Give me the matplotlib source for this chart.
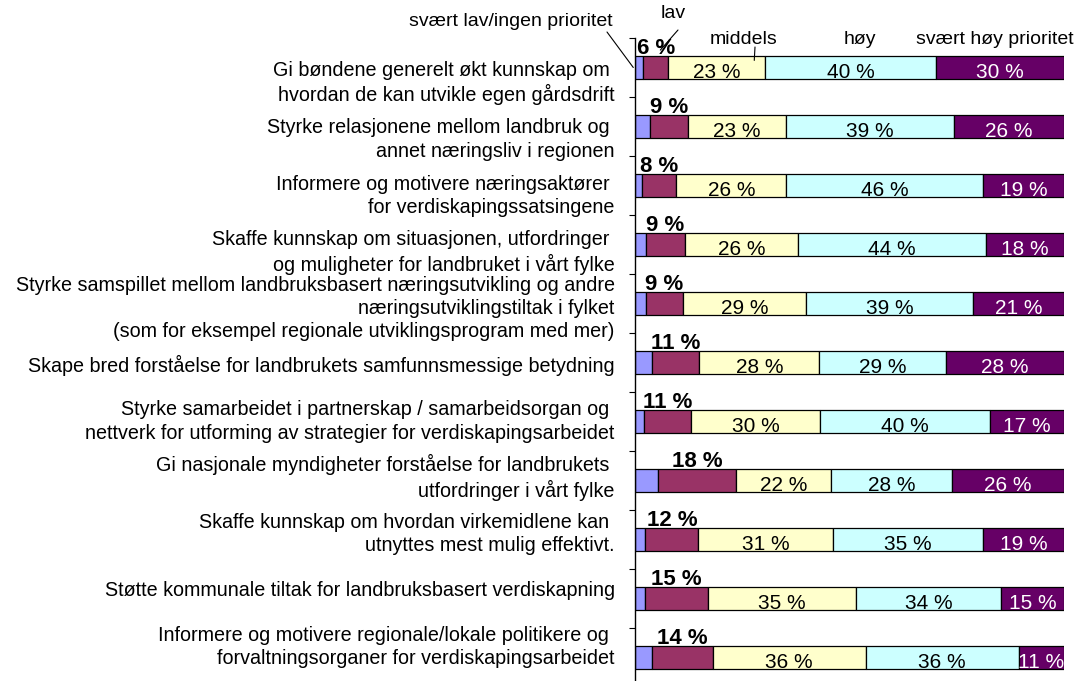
import numpy as np
import matplotlib.pyplot as plt

plt.rcParams['font.family'] = ['Liberation Sans', 'DejaVu Sans']

# tiltak (top to bottom)
categories = [
    "Gi bøndene generelt økt kunnskap om \nhvordan de kan utvikle egen gårdsdrift",
    "Styrke relasjonene mellom landbruk og \nannet næringsliv i regionen",
    "Informere og motivere næringsaktører \nfor verdiskapingssatsingene",
    "Skaffe kunnskap om situasjonen, utfordringer \nog muligheter for landbruket i vårt fylke",
    "Styrke samspillet mellom landbruksbasert næringsutvikling og andre\nnæringsutviklingstiltak i fylket\n(som for eksempel regionale utviklingsprogram med mer)",
    "Skape bred forståelse for landbrukets samfunnsmessige betydning",
    "Styrke samarbeidet i partnerskap / samarbeidsorgan og \nnettverk for utforming av strategier for verdiskapingsarbeidet",
    "Gi nasjonale myndigheter forståelse for landbrukets \nutfordringer i vårt fylke",
    "Skaffe kunnskap om hvordan virkemidlene kan \nutnyttes mest mulig effektivt.",
    "Støtte kommunale tiltak for landbruksbasert verdiskapning",
    "Informere og motivere regionale/lokale politikere og \nforvaltningsorganer for verdiskapingsarbeidet",
]

# andel (%) per prioritet
svaert_lav = [1.9, 3.6, 1.7, 2.5, 2.5, 3.9, 2.2, 5.4, 2.4, 2.4, 3.9]
lav = [5.9, 8.7, 7.9, 9.2, 8.7, 11.1, 10.9, 18.1, 12.4, 14.6, 14.2]
middels = [22.6, 22.8, 25.7, 26.3, 28.6, 28.0, 30.1, 22.1, 31.3, 34.6, 35.7]
hoy = [39.7, 39.3, 45.8, 43.9, 39.0, 29.4, 39.6, 28.4, 35.0, 33.8, 35.6]
svaert_hoy = [29.9, 25.6, 18.9, 18.1, 21.2, 27.6, 17.2, 26.0, 18.9, 14.6, 10.6]

series = [svaert_lav, lav, middels, hoy, svaert_hoy]
colors = ['#9999FF', '#993366', '#FFFFCC', '#CCFFFF', '#660066']
txt_colors = [None, None, 'black', 'black', 'white']

fig = plt.figure(figsize=(10.77, 6.81), dpi=100)
ax = fig.add_axes([635 / 1077, 1 - 687 / 681, 429 / 1077, 649 / 681])

n = len(categories)
y = np.arange(n)
left = np.zeros(n)
bh = 0.39
for k, vals in enumerate(series):
    vals = np.array(vals)
    ax.barh(y, vals, left=left, height=bh, color=colors[k],
            edgecolor='black', linewidth=0.9)
    for i in range(n):
        cx = left[i] + vals[i] / 2
        lbl = '%d %%' % round(vals[i])
        if k == 1:
            # lav-andel over stolpen
            ax.text(cx, y[i] - bh / 2 - 0.04, lbl, ha='center', va='baseline',
                    fontsize=16, fontweight='bold')
        elif k >= 2:
            ax.text(cx, y[i] + 0.09, lbl, ha='center', va='center',
                    fontsize=15, color=txt_colors[k])
    left += vals

ax.set_xlim(0, 100)
ax.set_ylim(n - 0.5, -0.5)
ax.set_yticks(np.arange(n + 1) - 0.5)
ax.set_yticklabels([])
ax.tick_params(axis='y', direction='out', length=4, width=0.8)
ax.set_xticks([])
for s in ['top', 'right', 'bottom']:
    ax.spines[s].set_visible(False)
ax.spines['left'].set_linewidth(1.0)

# kategoritekster
for i, c in enumerate(categories):
    ax.text(-0.047, i * 56.4 / 59 + 0.263, c, transform=ax.get_yaxis_transform(),
            ha='right', va='center', multialignment='right', fontsize=14.25,
            linespacing=1.28)

# forklaring over første stolpe
H = 681
fig.text(613 / 1077, 1 - 22 / H, 'svært lav/ingen prioritet', ha='right', va='center', fontsize=14)
fig.text(673 / 1077, 1 - 14 / H, 'lav', ha='center', va='center', fontsize=14)
fig.text(744 / 1077, 1 - 40 / H, 'middels', ha='center', va='center', fontsize=14)
fig.text(860 / 1077, 1 - 40 / H, 'høy', ha='center', va='center', fontsize=14)
fig.text(995 / 1077, 1 - 40 / H, 'svært høy prioritet', ha='center', va='center', fontsize=14)

lp = dict(arrowstyle='-', lw=0.8, color='black', shrinkA=0, shrinkB=0)
ax.annotate('', xy=(-0.4, 0.0), xytext=(607, H - 32), textcoords='figure pixels',
            arrowprops=lp, annotation_clip=False)
ax.annotate('', xy=(svaert_lav[0] + 4, -bh / 2 - 0.1), xytext=(678, H - 30),
            textcoords='figure pixels', arrowprops=lp, annotation_clip=False)
ax.annotate('', xy=(svaert_lav[0] + lav[0] + 20, -0.12), xytext=(755, H - 47),
            textcoords='figure pixels', arrowprops=lp, annotation_clip=False)

fig.savefig('out.png', dpi=100)
